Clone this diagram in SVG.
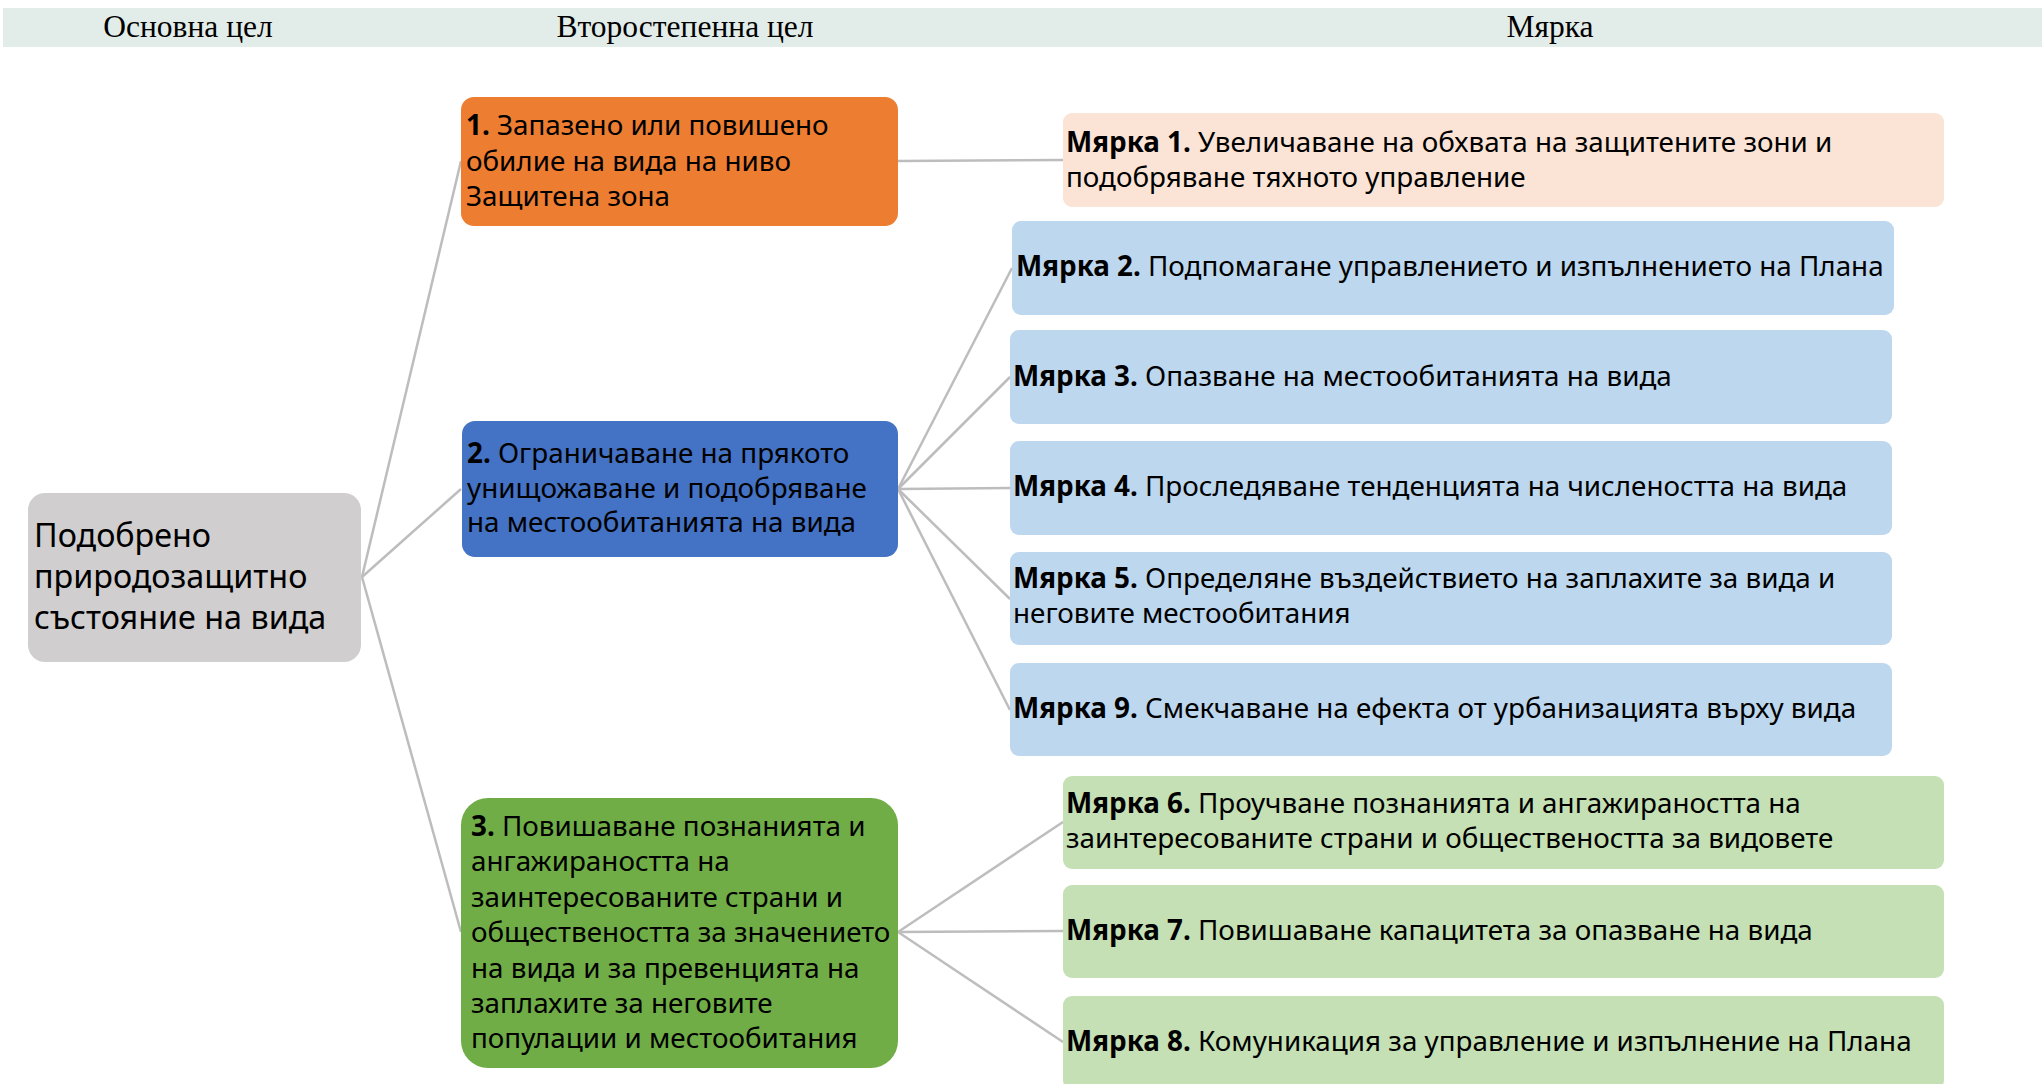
<svg xmlns="http://www.w3.org/2000/svg" width="2042" height="1084" viewBox="0 0 2042 1084">
<style>
.hdr{font-family:"Liberation Serif","Times New Roman",serif;font-size:31.5px;fill:#000;text-anchor:middle}
.t{font-family:"Noto Sans","Open Sans",sans-serif;font-size:27.8px;fill:#000}
.root{font-family:"Noto Sans","Open Sans",sans-serif;font-size:32.3px;fill:#000}
.b{font-weight:bold}
.c{fill:none;stroke:#BDBDBD;stroke-width:2.5}
.m1{fill:#FBE4D5}
.mb{fill:#BDD7EE}
.mg{fill:#C5E0B4}
</style>
<rect x="3" y="8" width="2039" height="39" fill="#E2ECE8"/>
<text class="hdr" x="188" y="37">Основна цел</text>
<text class="hdr" x="685" y="37">Второстепенна цел</text>
<text class="hdr" x="1550" y="37">Мярка</text>
<g id="connectors">
<line class="c" x1="362" y1="577" x2="461" y2="161"/>
<line class="c" x1="362" y1="577" x2="461" y2="489"/>
<line class="c" x1="362" y1="577" x2="461" y2="932"/>
<line class="c" x1="898" y1="161" x2="1063" y2="160"/>
<line class="c" x1="898" y1="489" x2="1012" y2="268"/>
<line class="c" x1="898" y1="489" x2="1010" y2="377"/>
<line class="c" x1="898" y1="489" x2="1010" y2="488"/>
<line class="c" x1="898" y1="489" x2="1010" y2="599"/>
<line class="c" x1="898" y1="489" x2="1010" y2="710"/>
<line class="c" x1="898" y1="932" x2="1063" y2="822"/>
<line class="c" x1="898" y1="932" x2="1063" y2="931"/>
<line class="c" x1="898" y1="932" x2="1063" y2="1042"/>
</g>
<g id="root">
<rect x="28" y="493" width="333" height="169" rx="17" fill="#D0CECE"/>
<text class="root" x="34" y="547">Подобрено</text>
<text class="root" x="34" y="588">природозащитно</text>
<text class="root" x="34" y="629">състояние на вида</text>
</g>
<g id="goal1">
<rect x="461" y="97" width="437" height="129" rx="13" fill="#ED7D31"/>
<text class="t" x="466" y="135"><tspan class="b">1.</tspan> Запазено или повишено</text>
<text class="t" x="466" y="171">обилие на вида на ниво</text>
<text class="t" x="466" y="206">Защитена зона</text>
</g>
<g id="goal2">
<rect x="462" y="421" width="436" height="136" rx="13" fill="#4472C4"/>
<text class="t" x="467" y="463"><tspan class="b">2.</tspan> Ограничаване на прякото</text>
<text class="t" x="467" y="498">унищожаване и подобряване</text>
<text class="t" x="467" y="532">на местообитанията на вида</text>
</g>
<g id="goal3">
<rect x="461" y="798" width="437" height="270" rx="27" fill="#70AD47"/>
<text class="t" x="471" y="836"><tspan class="b">3.</tspan> Повишаване познанията и</text>
<text class="t" x="471" y="871">ангажираността на</text>
<text class="t" x="471" y="907">заинтересованите страни и</text>
<text class="t" x="471" y="942">обществеността за значението</text>
<text class="t" x="471" y="978">на вида и за превенцията на</text>
<text class="t" x="471" y="1013">заплахите за неговите</text>
<text class="t" x="471" y="1048">популации и местообитания</text>
</g>
<g id="m1">
<rect class="m1" x="1063" y="113" width="881" height="94" rx="9"/>
<text class="t" x="1066" y="152"><tspan class="b">Мярка 1.</tspan> Увеличаване на обхвата на защитените зони и</text>
<text class="t" x="1066" y="187">подобряване тяхното управление</text>
</g>
<g id="m2">
<rect class="mb" x="1012" y="221" width="882" height="94" rx="9"/>
<text class="t" x="1016" y="276"><tspan class="b">Мярка 2.</tspan> Подпомагане управлението и изпълнението на Плана</text>
</g>
<g id="m3">
<rect class="mb" x="1010" y="330" width="882" height="94" rx="9"/>
<text class="t" x="1013" y="386"><tspan class="b">Мярка 3.</tspan> Опазване на местообитанията на вида</text>
</g>
<g id="m4">
<rect class="mb" x="1010" y="441" width="882" height="94" rx="9"/>
<text class="t" x="1013" y="496"><tspan class="b">Мярка 4.</tspan> Проследяване тенденцията на числеността на вида</text>
</g>
<g id="m5">
<rect class="mb" x="1010" y="552" width="882" height="93" rx="9"/>
<text class="t" x="1013" y="588"><tspan class="b">Мярка 5.</tspan> Определяне въздействието на заплахите за вида и</text>
<text class="t" x="1013" y="623">неговите местообитания</text>
</g>
<g id="m9">
<rect class="mb" x="1010" y="663" width="882" height="93" rx="9"/>
<text class="t" x="1013" y="718"><tspan class="b">Мярка 9.</tspan> Смекчаване на ефекта от урбанизацията върху вида</text>
</g>
<g id="m6">
<rect class="mg" x="1063" y="776" width="881" height="93" rx="9"/>
<text class="t" x="1066" y="813"><tspan class="b">Мярка 6.</tspan> Проучване познанията и ангажираността на</text>
<text class="t" x="1066" y="848">заинтересованите страни и обществеността за видовете</text>
</g>
<g id="m7">
<rect class="mg" x="1063" y="885" width="881" height="93" rx="9"/>
<text class="t" x="1066" y="940"><tspan class="b">Мярка 7.</tspan> Повишаване капацитета за опазване на вида</text>
</g>
<g id="m8">
<rect class="mg" x="1063" y="996" width="881" height="93" rx="9"/>
<text class="t" x="1066" y="1051"><tspan class="b">Мярка 8.</tspan> Комуникация за управление и изпълнение на Плана</text>
</g>
</svg>
